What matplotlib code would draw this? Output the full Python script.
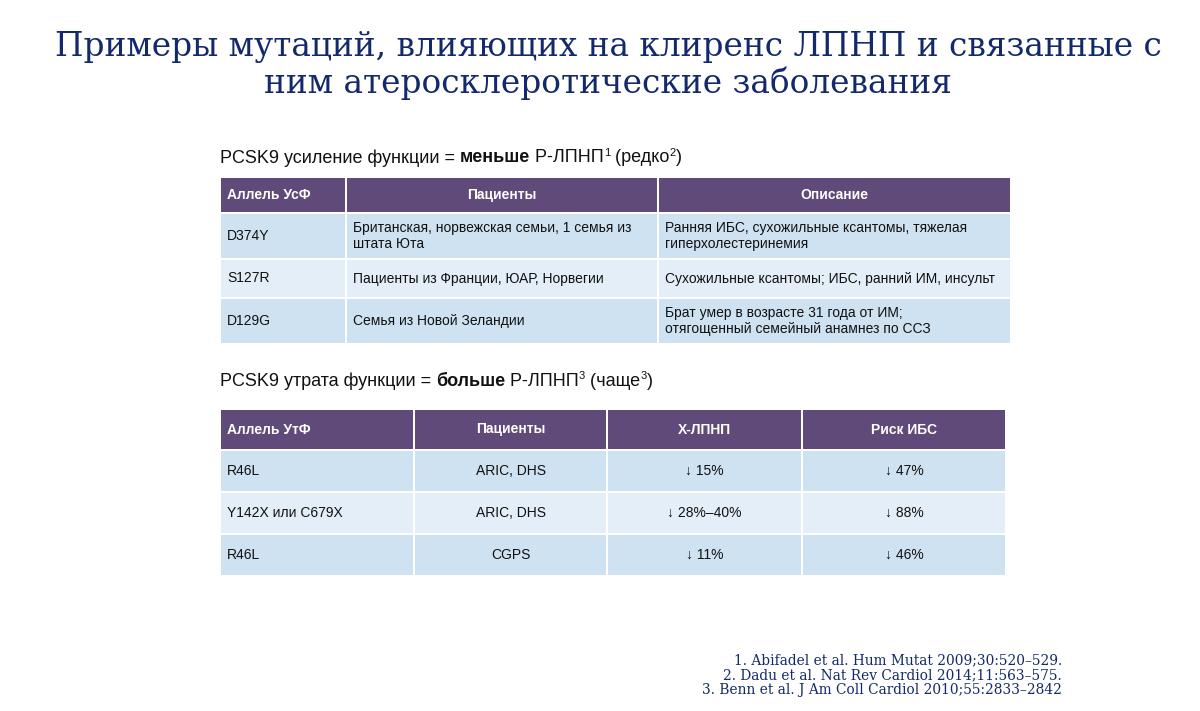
import matplotlib
matplotlib.use("Agg")
import matplotlib.pyplot as plt
from matplotlib.patches import Rectangle

SANS = ["Liberation Sans", "DejaVu Sans"]
SERIF = ["DejaVu Serif"]

title_lines = ["Примеры мутаций, влияющих на клиренс ЛПНП и связанные с",
               "ним атеросклеротические заболевания"]

# table 1: gain of function
t1_heading = [("PCSK9 усиление функции = ", "normal", False),
              ("меньше", "bold", False),
              (" Р-ЛПНП", "normal", False),
              ("1", "normal", True),
              (" (редко", "normal", False),
              ("2", "normal", True),
              (")", "normal", False)]
t1_header = ["Аллель УсФ", "Пациенты", "Описание"]
t1_rows = [["D374Y", "Британская, норвежская семьи, 1 семья из\nштата Юта",
            "Ранняя ИБС, сухожильные ксантомы, тяжелая\nгиперхолестеринемия"],
           ["S127R", "Пациенты из Франции, ЮАР, Норвегии",
            "Сухожильные ксантомы; ИБС, ранний ИМ, инсульт"],
           ["D129G", "Семья из Новой Зеландии",
            "Брат умер в возрасте 31 года от ИМ;\nотягощенный семейный анамнез по ССЗ"]]

# table 2: loss of function
t2_heading = [("PCSK9 утрата функции = ", "normal", False),
              ("больше", "bold", False),
              (" Р-ЛПНП", "normal", False),
              ("3", "normal", True),
              (" (чаще", "normal", False),
              ("3", "normal", True),
              (")", "normal", False)]
t2_header = ["Аллель УтФ", "Пациенты", "Х-ЛПНП", "Риск ИБС"]
t2_rows = [["R46L", "ARIC, DHS", "↓ 15%", "↓ 47%"],
           ["Y142X или C679X", "ARIC, DHS", "↓ 28%–40%", "↓ 88%"],
           ["R46L", "CGPS", "↓ 11%", "↓ 46%"]]

refs = ["1. Abifadel et al. Hum Mutat 2009;30:520–529.",
        "2. Dadu et al. Nat Rev Cardiol 2014;11:563–575.",
        "3. Benn et al. J Am Coll Cardiol 2010;55:2833–2842"]

# layout (pixels)
t1_cols = [220, 346, 658, 1011]
t1_rowy = [177, 213, 259, 298, 344]
t2_cols = [220, 414, 607, 802, 1006]
t2_rowy = [409, 450, 492, 534, 576]

HEAD = "#5f4a7a"
ROW_DARK = "#cfe2f1"
ROW_LIGHT = "#e4eef8"
NAVY = "#13296b"

fig = plt.figure(figsize=(12, 7.11), dpi=100)
ax = fig.add_axes([0, 0, 1, 1])
ax.set_xlim(0, 1200)
ax.set_ylim(711, 0)
ax.axis("off")

for i, line in enumerate(title_lines):
    ax.text(608, 56 + i * 37, line, ha="center", va="baseline", fontsize=23.6,
            color=NAVY, family=SERIF)

fig.canvas.draw()
renderer = fig.canvas.get_renderer()


def draw_heading(x, y, runs, size=13):
    for txt, weight, sup in runs:
        if sup:
            t = ax.text(x, y - 5, txt, fontsize=size * 0.62, fontweight=weight,
                        family=SANS, va="center", ha="left", color="#111111")
        else:
            t = ax.text(x, y, txt, fontsize=size, fontweight=weight,
                        family=SANS, va="center", ha="left", color="#111111")
        bb = t.get_window_extent(renderer=renderer)
        x += bb.width


def draw_table(cols, rowy, header, rows, head_left, body_left, pad=6):
    ncol = len(cols) - 1
    for r in range(len(rowy) - 1):
        if r == 0:
            fc = HEAD
        else:
            fc = ROW_DARK if r % 2 == 1 else ROW_LIGHT
        for c in range(ncol):
            x0, x1 = cols[c] + 1, cols[c + 1] - 1
            y0, y1 = rowy[r] + 1, rowy[r + 1] - 1
            ax.add_patch(Rectangle((x0, y0), x1 - x0, y1 - y0, fc=fc, ec="none"))
            txt = header[c] if r == 0 else rows[r - 1][c]
            yc = (y0 + y1) / 2
            left = c in (head_left if r == 0 else body_left)
            if left:
                xt, ha = x0 + pad, "left"
            else:
                xt, ha = (x0 + x1) / 2, "center"
            ax.text(xt, yc, txt, ha=ha, va="center", fontsize=10,
                    family=SANS, linespacing=1.2,
                    color="white" if r == 0 else "#111111",
                    fontweight="bold" if r == 0 else "normal")


draw_heading(220, 158, t1_heading)
draw_table(t1_cols, t1_rowy, t1_header, t1_rows, head_left=[0], body_left=[0, 1, 2])
draw_heading(220, 381, t2_heading)
draw_table(t2_cols, t2_rowy, t2_header, t2_rows, head_left=[0], body_left=[0])

for i, ref in enumerate(refs):
    ax.text(1062, 660 + i * 15, ref, ha="right", va="center", fontsize=9.9,
            color=NAVY, family=SERIF)

fig.savefig("out.png", dpi=100)
